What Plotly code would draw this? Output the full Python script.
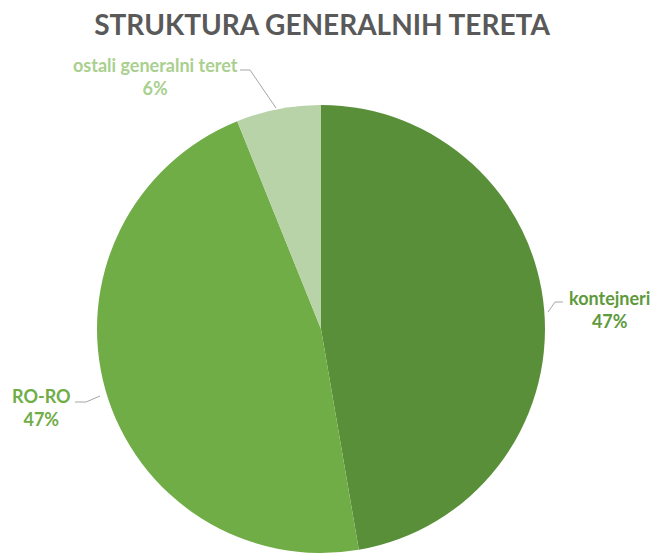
import plotly.graph_objects as go

W, H = 660, 554

categories = ["kontejneri", "RO-RO", "ostali generalni teret"]
values = [47.3, 46.6, 6.1]
colors = ["#5A8F3A", "#70AD47", "#B7D3A7"]
label_colors = ["#5E9A3C", "#70AD47", "#A9D08E"]

def px(x):
    return x / W

def py(y):
    return 1 - y / H

# pie geometry (pixels)
cx, cy, r = 321, 329, 224

fig = go.Figure(go.Pie(
    labels=categories,
    values=values,
    sort=False,
    direction="clockwise",
    rotation=0,
    marker=dict(colors=colors, line=dict(color="white", width=0)),
    textinfo="none",
    hoverinfo="label+percent",
    domain=dict(x=[px(cx - r), px(cx + r)], y=[py(cy + r), py(cy - r)]),
    showlegend=False,
))

total = sum(values)
pcts = [round(v / total * 100) for v in values]

# label positions (pixels) and leader paths
label_pos = [(609, 309), (42, 407), (155, 77)]
leaders = [
    [(563, 302), (555, 302), (548, 312)],
    [(75, 402), (86, 402), (100, 396)],
    [(240, 70), (250, 70), (276, 108)],
]

for cat, p, (lx, ly), col in zip(categories, pcts, label_pos, label_colors):
    fig.add_annotation(
        x=px(lx), y=py(ly), xref="paper", yref="paper",
        text=f"<b>{cat}<br>{p}%</b>", showarrow=False,
        font=dict(family="Lato", size=18, color=col),
        align="center", xanchor="center", yanchor="middle",
    )

for pts in leaders:
    path = "M " + " L ".join(f"{px(x)},{py(y)}" for x, y in pts)
    fig.add_shape(type="path", path=path, xref="paper", yref="paper",
                  line=dict(color="#A6A6A6", width=1))

fig.update_layout(
    width=W, height=H,
    margin=dict(l=0, r=0, t=0, b=0),
    paper_bgcolor="white", plot_bgcolor="white",
    title=dict(text="<b>STRUKTURA GENERALNIH TERETA</b>", x=px(322), xanchor="center",
               y=py(25), yanchor="middle",
               font=dict(family="Lato", size=28, color="#595959")),
)

fig.write_html("out.html")
